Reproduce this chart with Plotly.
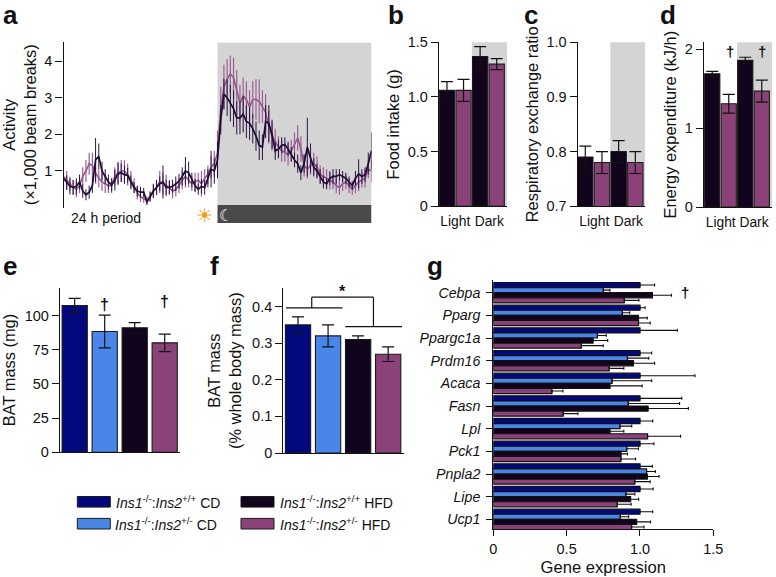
import plotly.graph_objects as go

# ---------- data ----------
hfd_wt = [.8,.68,.58,.55,.58,.7,.45,.35,.42,.6,1.3,1.4,1.0,.85,.7,.62,.75,.92,.95,.9,.88,.7,.55,.45,.42,.42,.15,.3,.45,.55,.65,.7,.55,.55,.58,.65,.72,.85,1.0,.95,.75,.6,.5,.58,.55,.8,1.05,1.0,1.3,2.4,3.1,3.0,2.85,2.7,2.45,2.45,2.55,2.35,2.3,2.15,1.95,1.7,1.65,2.35,2.3,2.0,1.55,1.6,1.7,1.72,1.6,1.45,1.3,1.2,.95,1.2,1.65,1.35,1.1,1.0,.85,.7,.65,.8,.85,.85,.9,.85,.8,.7,.6,.8,.92,.85,.9,1.2,1.55]
hfd_wt_err = [.2,.2,.22,.2,.22,.2,.18,.15,.18,.2,.6,.35,.25,.2,.2,.18,.28,.3,.25,.25,.2,.18,.15,.15,.15,.12,.08,.12,.18,.2,.2,.45,.2,.18,.18,.2,.2,.25,.38,.3,.2,.18,.15,.2,.2,.25,.5,.35,.5,.4,.42,.5,.5,.5,.45,.45,.5,.45,.45,.4,.4,.4,.35,.45,.5,.4,.25,.25,.22,.2,.2,.2,.2,.25,.2,.25,.8,.4,.25,.2,.2,.18,.15,.18,.2,.2,.15,.15,.15,.15,.12,.2,.4,.2,.2,.3,.5]
hfd_het = [.85,.75,.65,.55,.5,.6,.85,1.0,1.2,1.15,.95,.8,.7,.65,.6,.6,.85,.95,1.0,1.0,.9,.75,.6,.4,.3,.25,.2,.3,.45,.55,.7,.65,.6,.55,.45,.5,.6,.75,.85,.75,.65,.7,.75,.65,.8,.9,1.1,1.2,1.5,2.7,3.3,3.5,3.65,3.55,3.2,2.85,3.05,2.95,2.75,2.95,2.95,2.9,2.75,2.6,2.2,1.95,1.8,1.65,1.55,1.5,1.45,1.55,1.75,1.9,1.6,1.15,1.05,1.15,1.2,1.1,.9,.85,.8,.75,.7,.6,.55,.65,.7,.6,.5,.6,.7,.75,.8,1.05,1.0]
hfd_het_err = [.3,.25,.2,.2,.22,.2,.25,.3,.3,.35,.3,.25,.25,.25,.2,.2,.25,.3,.3,.3,.3,.25,.2,.18,.15,.12,.1,.15,.2,.2,.3,.3,.3,.2,.2,.2,.2,.25,.3,.2,.2,.25,.2,.35,.25,.25,.3,.35,.6,.6,.6,.55,.5,.55,.55,.5,.5,.5,.45,.5,.55,.6,.45,.5,.45,.4,.35,.3,.3,.25,.3,.3,.3,.35,.35,.3,.25,.25,.3,.3,.25,.25,.25,.25,.2,.2,.2,.2,.2,.2,.15,.2,.25,.2,.25,.25,.3]

period_labels = ["Light", "Dark"]
food = [1.06, 1.06, 1.37, 1.30]
food_err = [.08, .10, .09, .05]
rer = [.79, .78, .80, .78]
rer_err = [.02, .02, .02, .02]
energy = [1.69, 1.31, 1.86, 1.47]
energy_err = [.03, .12, .04, .14]
bat_mg = [107.3, 88.3, 91, 80]
bat_mg_err = [5.2, 12, 3.8, 6.4]
bat_pct = [.35, .32, .31, .27]
bat_pct_err = [.022, .03, .01, .02]

genes = ["Cebpa","Pparg","Ppargc1a","Prdm16","Acaca","Fasn","Lpl","Pck1","Pnpla2","Lipe","Ucp1"]
g_cd_wt = [1.0]*11
g_cd_wt_err = [.10,.035,.255,.08,.375,.285,.087,.095,.085,.09,.087]
g_cd_het = [.75,.88,.71,.915,.81,.92,.864,.91,1.045,.905,.866]
g_cd_het_err = [.045,.05,.06,.145,.27,.35,.08,.08,.06,.06,.057]
g_hfd_wt = [1.085,.99,.68,.955,.795,1.055,.795,.87,1.05,.936,.977]
g_hfd_wt_err = [.13,.06,.10,.145,.22,.275,.095,.045,.08,.055,.095]
g_hfd_het = [.893,.99,.6,.79,.40,.477,1.052,.87,.965,.845,.943]
g_hfd_het_err = [.10,.08,.15,.10,.075,.10,.225,.10,.105,.095,.084]

legend_names = ["<i>Ins1</i><sup>-/-</sup>:<i>Ins2</i><sup>+/+</sup> CD",
                "<i>Ins1</i><sup>-/-</sup>:<i>Ins2</i><sup>+/-</sup> CD",
                "<i>Ins1</i><sup>-/-</sup>:<i>Ins2</i><sup>+/+</sup> HFD",
                "<i>Ins1</i><sup>-/-</sup>:<i>Ins2</i><sup>+/-</sup> HFD"]

# ---------- style ----------
W, H = 776, 577
NAVY, BLUE, DARK, PURPLE = "#03097c", "#4a86e8", "#12041c", "#8a4278"
FONT = "Liberation Sans"
INK = "#111111"
GRAY = "#d4d4d4"
bar4 = [DARK, PURPLE, DARK, PURPLE]
all4 = [NAVY, BLUE, DARK, PURPLE]

def px(x): return x / W
def py(y): return 1 - y / H
def dx(a, b): return [px(a), px(b)]
def dy(t, b): return [py(b), py(t)]

fig = go.Figure()
ann, shp, lay = [], [], {}

def axes(n, xdom, ydom, xr, yr, yticks, yticktext, ytitle, standoff, xtickvals=None, xticktext=None):
    s = "" if n == 1 else str(n)
    lay["xaxis" + s] = dict(domain=xdom, range=xr, anchor="y" + s, showgrid=False, zeroline=False,
                            showline=True, linecolor=INK, linewidth=1.3, ticks="", automargin=False,
                            tickvals=xtickvals or [], ticktext=xticktext or [],
                            tickfont=dict(size=13.8, family=FONT, color=INK), ticklabelstandoff=2)
    lay["yaxis" + s] = dict(domain=ydom, range=yr, anchor="x" + s, showgrid=False, zeroline=False,
                            showline=True, linecolor=INK, linewidth=1.3, ticks="outside", ticklen=7,
                            tickwidth=1.3, tickcolor=INK, tickvals=yticks, ticktext=yticktext, automargin=False,
                            tickfont=dict(size=14.5, family=FONT, color=INK),
                            title=dict(text=ytitle, standoff=standoff, font=dict(size=16.4, family=FONT, color=INK)))

def bars(n, values, errs, colors, width):
    s = "" if n == 1 else str(n)
    fig.add_trace(go.Bar(x=list(range(len(values))), y=values, width=width, xaxis="x" + s, yaxis="y" + s,
                         marker=dict(color=colors, line=dict(color="#1a1a1a", width=1.1)),
                         error_y=dict(type="data", array=errs, color=INK, thickness=1.2, width=6),
                         showlegend=False))

def note(text, x, y, size=13, xanchor="center", yanchor="middle", color=INK, bold=False, xref="paper", yref="paper", fam=FONT):
    ann.append(dict(text=f"<b>{text}</b>" if bold else text, x=x, y=y, xref=xref, yref=yref,
                    showarrow=False, xanchor=xanchor, yanchor=yanchor,
                    font=dict(size=size, family=fam, color=color)))

# panel a
xs = list(range(len(hfd_wt)))
axes(1, dx(63.5, 371.5), dy(42, 207.6), [0, 96], [0, 4.52], [1, 2, 3, 4], ["1", "2", "3", "4"],
     "Activity<br>(×1,000 beam breaks)", 8)
lay["xaxis"]["showline"] = False
lay["xaxis"]["showticklabels"] = False
shp.append(dict(type="rect", xref="x", yref="y domain", x0=48, x1=96, y0=0.016, y1=0.995,
                fillcolor=GRAY, line_width=0, layer="below"))
shp.append(dict(type="rect", xref="x", yref="y domain", x0=48, x1=96, y0=-0.093, y1=0.016,
                fillcolor="#4a4a4a", line_width=0, layer="above"))
fig.add_trace(go.Scatter(x=xs, y=hfd_het, mode="lines", line=dict(color="#94568c", width=1.6),
                         error_y=dict(type="data", array=hfd_het_err, color="#9c5f94", thickness=1.2, width=0),
                         showlegend=False))
fig.add_trace(go.Scatter(x=xs, y=hfd_wt, mode="lines", line=dict(color="#1f0b33", width=1.7),
                         error_y=dict(type="data", array=hfd_wt_err, color="#2a1440", thickness=1.0, width=0),
                         showlegend=False))
note("24 h period", px(69), py(218), 14, xanchor="left")
note("☀", px(204.5), py(215.5), 19, color="#f59a10", fam="DejaVu Sans")
note("☾", px(226), py(215.5), 16, color="#ffffff", fam="DejaVu Sans", bold=True)

# panel b
axes(2, dx(439, 507), dy(42.3, 206.3), [-0.48, 3.62], [0, 1.5], [0, .5, 1, 1.5], ["0", "0.5", "1.0", "1.5"],
     "Food intake (g)", 4, [0.5, 2.55], period_labels)
shp.append(dict(type="rect", xref="x2", yref="y2 domain", x0=1.5, x1=3.62, y0=0, y1=1, fillcolor=GRAY, line_width=0, layer="below"))
bars(2, food, food_err, bar4, 0.92)

# panel c
axes(3, dx(577.7, 645), dy(42.3, 206.3), [-0.456, 3.58], [.7, 1.0], [.7, .8, .9, 1.0], ["0.7", "0.8", "0.9", "1.0"],
     "Respiratory exchange ratio", 3, [0.54, 2.58], period_labels)
shp.append(dict(type="rect", xref="x3", yref="y3 domain", x0=1.5, x1=3.58, y0=0, y1=1, fillcolor=GRAY, line_width=0, layer="below"))
bars(3, rer, rer_err, bar4, 0.92)

# panel d
axes(4, dx(704, 772), dy(42.3, 207), [-0.5, 3.62], [0, 2.09], [0, 1, 2], ["0", "1", "2"],
     "Energy expenditure (kJ/h)", 4, [0.51, 2.53], period_labels)
shp.append(dict(type="rect", xref="x4", yref="y4 domain", x0=1.5, x1=3.62, y0=0, y1=1, fillcolor=GRAY, line_width=0, layer="below"))
bars(4, energy, energy_err, bar4, 0.92)
note("†", 1.05, 1.97, 15, xref="x4", yref="y4", bold=True)
note("†", 3.02, 1.97, 15, xref="x4", yref="y4", bold=True)

# panel e
axes(5, dx(60, 180), dy(287.7, 452.3), [-0.49, 3.51], [0, 120.3], [0, 25, 50, 75, 100], ["0", "25", "50", "75", "100"],
     "BAT mass (mg)", 6.5)
bars(5, bat_mg, bat_mg_err, all4, 0.84)
note("†", 1, 108, 16, xref="x5", yref="y5", bold=True)
note("†", 3, 110, 16, xref="x5", yref="y5", bold=True)

# panel f
axes(6, dx(283.3, 403.5), dy(288.3, 453), [-0.49, 3.51], [0, .45], [0, .1, .2, .3, .4], ["0", "0.1", "0.2", "0.3", "0.4"],
     "BAT mass<br>(% whole body mass)", 6)
bars(6, bat_pct, bat_pct_err, all4, 0.84)
for x0, y0, x1, y1 in [(-0.4, .3965, 1.48, .3965), (.456, .3965, .456, .4257), (.456, .4257, 2.51, .4257),
                       (2.51, .4257, 2.51, .3455), (1.57, .3455, 3.46, .3455)]:
    shp.append(dict(type="line", xref="x6", yref="y6", x0=x0, x1=x1, y0=y0, y1=y1, line=dict(color=INK, width=1.2)))
note("*", 1.48, .44, 16, xref="x6", yref="y6", bold=True)

# panel g
lay["xaxis7"] = dict(domain=dx(493.3, 713.3), range=[0, 1.5], anchor="y7", showgrid=False, zeroline=False,
                     showline=True, linecolor=INK, linewidth=1.3, ticks="outside", ticklen=6, tickwidth=1.3,
                     tickcolor=INK, tickvals=[0, .5, 1, 1.5], ticktext=["0", "0.5", "1.0", "1.5"], automargin=False,
                     tickfont=dict(size=14.5, family=FONT, color=INK),
                     title=dict(text="Gene expression", standoff=6, font=dict(size=16.6, family=FONT, color=INK)))
lay["yaxis7"] = dict(domain=dy(280, 529.3), range=[10.44, -0.56], anchor="x7", type="linear", showgrid=False,
                     zeroline=False, showline=True, linecolor=INK, linewidth=1.3, ticks="outside", ticklen=6,
                     tickwidth=1.3, tickcolor=INK, tickvals=list(range(len(genes))), automargin=False,
                     ticktext=[f"<i>{g}</i>" for g in genes], ticklabelstandoff=3,
                     tickfont=dict(size=14.2, family=FONT, color=INK))
ypos = list(range(len(genes)))
for v, e, c in [(g_cd_wt, g_cd_wt_err, NAVY), (g_cd_het, g_cd_het_err, BLUE),
                (g_hfd_wt, g_hfd_wt_err, DARK), (g_hfd_het, g_hfd_het_err, PURPLE)]:
    fig.add_trace(go.Bar(x=v, y=ypos, orientation="h", xaxis="x7", yaxis="y7",
                         marker=dict(color=c, line=dict(color="#101010", width=1.2)),
                         error_x=dict(type="data", symmetric=False, array=e, arrayminus=[0] * len(e),
                                      color=INK, thickness=1.1, width=1.5),
                         showlegend=False))
note("†", 1.31, 0, 15, xref="x7", yref="y7", bold=True)

# legend
for name, c, xb, xt, yc in zip(legend_names, all4, [77.3, 77.3, 241, 241], [113.5, 113, 278, 277.5],
                               [501.8, 523.7, 501.8, 523.7]):
    shp.append(dict(type="rect", xref="paper", yref="paper", x0=px(xb), x1=px(xb + 33), y0=py(yc - 5.3), y1=py(yc + 5.3),
                    fillcolor=c, line=dict(color="#1a1a1a", width=1)))
    note(name, px(xt), py(yc), 14, xanchor="left")

# panel letters
for letter, x, y in [("a", 1, 15.5), ("b", 386, 15.5), ("c", 522, 15.5), ("d", 658, 15.5), ("e", 1, 266), ("f", 208, 266), ("g", 425, 265.5)]:
    note(letter, px(x), py(y), 26, xanchor="left", bold=True)

fig.update_layout(width=W, height=H, margin=dict(l=0, r=0, t=0, b=0, autoexpand=False), paper_bgcolor="white", plot_bgcolor="rgba(0,0,0,0)",
                  barmode="group", bargap=0.1, bargroupgap=0, annotations=ann, shapes=shp,
                  font=dict(family=FONT, color=INK), showlegend=False, **lay)

fig.write_html("out.html", config={"displayModeBar": False},
               post_script="document.body.style.margin='0';document.body.style.overflow='hidden';")
